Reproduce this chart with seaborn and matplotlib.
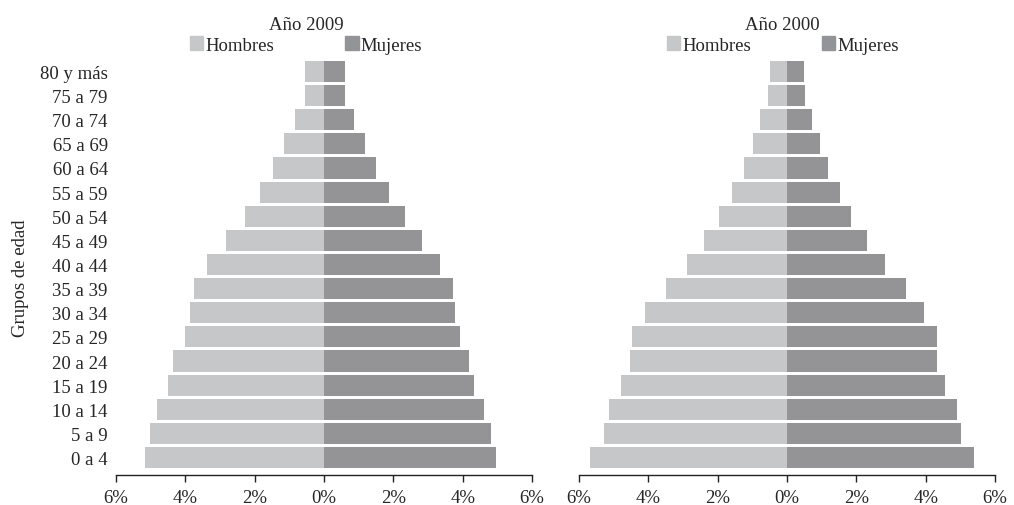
import pandas as pd
import numpy as np
import matplotlib
matplotlib.use("Agg")
import matplotlib.pyplot as plt
import seaborn as sns
from matplotlib.patches import Patch
from matplotlib.ticker import FuncFormatter

# ==================================================
# DATA
# ==================================================

grupos = [
    "80 y más", "75 a 79", "70 a 74", "65 a 69", "60 a 64", "55 a 59",
    "50 a 54", "45 a 49", "40 a 44", "35 a 39", "30 a 34", "25 a 29",
    "20 a 24", "15 a 19", "10 a 14", "5 a 9", "0 a 4"
]

hombres_2009 = [0.55, 0.55, 0.84, 1.16, 1.47, 1.85, 2.28, 2.83, 3.38,
                3.76, 3.87, 4.02, 4.36, 4.51, 4.83, 5.03, 5.17]
mujeres_2009 = [0.60, 0.60, 0.87, 1.18, 1.50, 1.88, 2.34, 2.83, 3.35,
                3.73, 3.79, 3.93, 4.19, 4.34, 4.62, 4.83, 4.97]

hombres_2000 = [0.50, 0.56, 0.79, 0.99, 1.25, 1.60, 1.97, 2.40, 2.89,
                3.50, 4.11, 4.48, 4.54, 4.80, 5.14, 5.29, 5.69]
mujeres_2000 = [0.48, 0.51, 0.71, 0.94, 1.17, 1.52, 1.84, 2.30, 2.82,
                3.42, 3.94, 4.32, 4.34, 4.55, 4.89, 5.01, 5.39]

x_ticks = [-6, -4, -2, 0, 2, 4, 6]

color_h = "#c6c7c9"
color_m = "#939498"

# ==================================================
# STYLE
# ==================================================

sns.set_style("white")
plt.rcParams["font.family"] = ["Liberation Serif", "DejaVu Serif"]
fs = 13.5
plt.rcParams["font.size"] = fs


def make_df(hombres, mujeres):
    h = pd.DataFrame({"grupo": grupos, "sexo": "Hombres",
                      "valor": -np.array(hombres)})
    m = pd.DataFrame({"grupo": grupos, "sexo": "Mujeres",
                      "valor": np.array(mujeres)})
    return pd.concat([h, m], ignore_index=True)


# ==================================================
# FIGURE
# ==================================================

fig = plt.figure(figsize=(10.14, 5.06), dpi=100)

ax1 = fig.add_axes([0.1144, 0.0593, 0.4103, 0.832])
ax2 = fig.add_axes([0.571, 0.0593, 0.4103, 0.832])

panels = [
    (ax1, make_df(hombres_2009, mujeres_2009), "Año 2009", 0.302),
    (ax2, make_df(hombres_2000, mujeres_2000), "Año 2000", 0.772),
]

for ax, df, titulo, cx in panels:
    sns.barplot(
        data=df,
        x="valor",
        y="grupo",
        hue="sexo",
        order=grupos,
        hue_order=["Hombres", "Mujeres"],
        palette=[color_h, color_m],
        dodge=False,
        width=0.875,
        linewidth=0,
        ax=ax
    )

    ax.set_xlim(-6, 6)
    ax.set_ylim(16.725, -0.725)
    ax.set_xticks(x_ticks)
    ax.xaxis.set_major_formatter(FuncFormatter(lambda v, p: f"{abs(v):.0f}%"))
    ax.set_xlabel("")

    for side in ["top", "right", "left"]:
        ax.spines[side].set_visible(False)
    ax.spines["bottom"].set_color("#222222")
    ax.spines["bottom"].set_linewidth(1.0)

    ax.tick_params(axis="x", bottom=True, direction="out", length=5,
                   width=1, color="#222222", labelsize=fs, pad=5)
    ax.tick_params(axis="y", left=False, length=0, labelsize=fs, pad=6)

    if ax.get_legend() is not None:
        ax.get_legend().remove()

    fig.text(cx, 0.950, titulo, ha="center", va="center", fontsize=fs)

    handles = [Patch(color=color_h), Patch(color=color_m)]
    fig.legend(
        handles,
        ["Hombres", "Mujeres"],
        loc="center",
        bbox_to_anchor=(cx, 0.909),
        ncol=2,
        frameon=False,
        handlelength=0.7,
        handleheight=0.7,
        handletextpad=0.12,
        columnspacing=3.8,
        fontsize=fs,
        borderaxespad=0
    )

ax1.set_ylabel("Grupos de edad", fontsize=fs)
ax1.yaxis.set_label_coords(-0.208, 0.47)
ax2.set_ylabel("")
ax2.set_yticklabels([])

plt.savefig("out.png", dpi=100)
